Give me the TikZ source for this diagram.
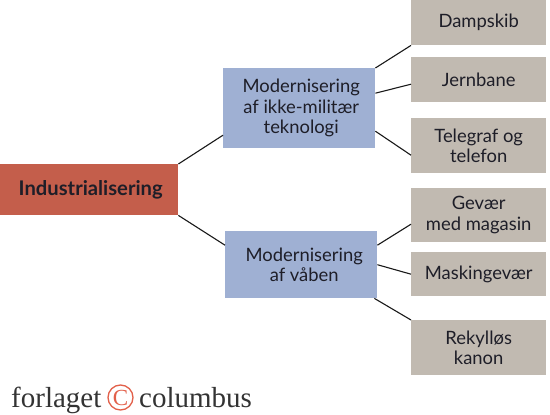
\documentclass[tikz,border=0pt]{standalone}
\usepackage{fontspec}
\setmainfont{Lato}
\newfontfamily\logofont{Liberation Serif}
\definecolor{redbox}{HTML}{C45E4B}
\definecolor{bluebox}{HTML}{9FB0D3}
\definecolor{graybox}{HTML}{C1BAB1}
\definecolor{inktext}{HTML}{1E1E28}
\definecolor{logored}{HTML}{E2604A}
\tikzset{
  box/.style={draw=none,inner sep=0pt,align=center,anchor=north west,text=inktext,font=\fontsize{18.4}{20.5}\selectfont},
  redb/.style={box,fill=redbox,minimum width=178pt,minimum height=51pt,font=\fontsize{20.2}{21}\selectfont\bfseries},
  blueb/.style={box,fill=bluebox,minimum width=152pt},
  grayb/.style={box,fill=graybox,minimum width=135pt},
  link/.style={draw=black!90,line width=1.1pt},
  logotxt/.style={inner sep=0pt,text=black!80,font=\logofont\fontsize{29}{29}\selectfont}
}
\begin{document}
\begin{tikzpicture}[x=1pt,y=-1pt]
\useasboundingbox (0,0) rectangle (550,415);
\node[redb] (ind) at (0,164) {\hspace*{3pt}Industrialisering};
\node[blueb,minimum height=80pt] (b1) at (223,68) {\hspace*{4pt}Modernisering\\\hspace*{4pt}af ikke-militær\\\hspace*{4pt}teknologi};
\node[blueb,minimum height=67pt] (b2) at (225,231) {\hspace*{6pt}Modernisering\\\hspace*{6pt}af våben};
\node[grayb,minimum height=45pt] (g1) at (411,0) {Dampskib};
\node[grayb,minimum height=45pt] (g2) at (411,57) {Jernbane};
\node[grayb,minimum height=55pt] (g3) at (411,118) {Telegraf og\\telefon};
\node[grayb,minimum height=54pt] (g4) at (411,188) {Gevær\\med magasin};
\node[grayb,minimum height=44pt] (g5) at (411,252) {Maskingevær};
\node[grayb,minimum height=55pt] (g6) at (411,320) {Rekylløs\\kanon};
\draw[link] (ind.north east) -- ([yshift=-27pt]b1.west);
\draw[link] (ind.south east) -- ([yshift=19.5pt]b2.west);
\draw[link] (b1.north east) -- (g1.south west);
\draw[link] ([yshift=15pt]b1.east) -- ([yshift=-4.5pt]g2.west);
\draw[link] ([yshift=-23pt]b1.east) -- ([yshift=-9.5pt]g3.west);
\draw[link] ([yshift=19.5pt]b2.east) -- ([yshift=-9pt]g4.west);
\draw[link] ([yshift=0pt]b2.east) -- ([yshift=0pt]g5.west);
\draw[link] ([xshift=-3pt]b2.south east) -- (g6.north west);
\node[logotxt,anchor=base west] (l1) at (11,407) {forlaget};
\node[circle,draw=logored,line width=1.3pt,inner sep=0pt,minimum size=25pt,text=logored,font=\logofont\fontsize{23}{23}\selectfont] (l2) at (120.5,397.5) {C};
\node[logotxt,anchor=base west] (l3) at (139,407) {columbus};
\end{tikzpicture}
\end{document}
